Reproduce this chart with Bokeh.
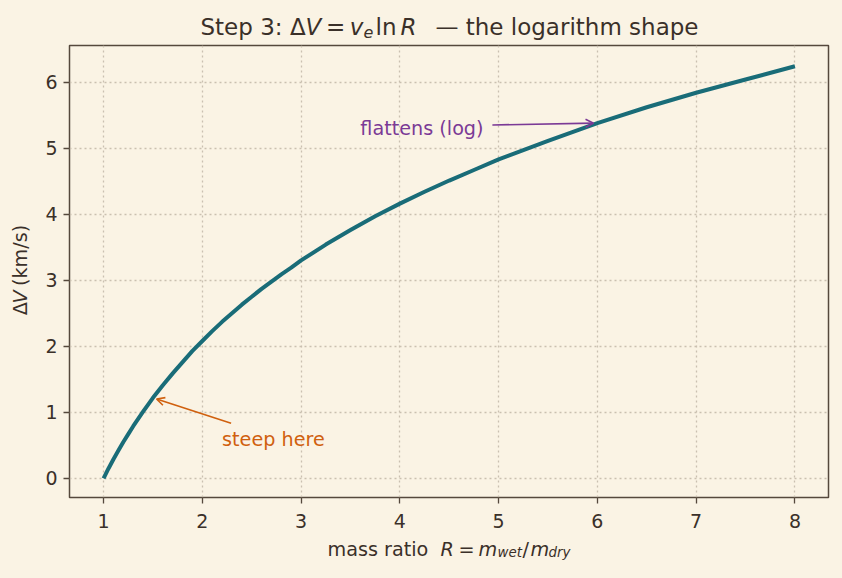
import math
from bokeh.plotting import figure
from bokeh.layouts import column, row
from bokeh.models import Label, Arrow, OpenHead, FixedTicker, Range1d
from bokeh.core.properties import value
from bokeh.embed import file_html
from bokeh.resources import INLINE

# ---------------- data ----------------
mass_ratio = [1.0, 1.05, 1.1, 1.15, 1.2, 1.25, 1.3, 1.35, 1.4, 1.5, 1.6, 1.7, 1.8,
              1.9, 2.0, 2.1, 2.2, 2.3, 2.4, 2.5, 2.6, 2.7, 2.8, 2.9, 3.0, 3.25,
              3.5, 3.75, 4.0, 4.25, 4.5, 4.75, 5.0, 5.5, 6.0, 6.5, 7.0, 7.5, 8.0]
delta_v = [0.0, 0.15, 0.29, 0.42, 0.55, 0.67, 0.79, 0.90, 1.01, 1.22, 1.41, 1.59, 1.76,
           1.93, 2.08, 2.23, 2.37, 2.50, 2.63, 2.75, 2.87, 2.98, 3.09, 3.19, 3.30, 3.54,
           3.76, 3.97, 4.16, 4.34, 4.51, 4.67, 4.83, 5.11, 5.38, 5.62, 5.84, 6.04, 6.24]
x_ticks = [1, 2, 3, 4, 5, 6, 7, 8]
y_ticks = [0, 1, 2, 3, 4, 5, 6]

steep_point = [1.5, 1.22]
steep_text_pos = [2.2, 0.5]
steep_text = "steep here"
flat_point = [6.0, 5.38]
flat_text_pos = [3.6, 5.2]
flat_text = "flattens (log)"

# ---------------- styling ----------------
BG = "#faf3e4"
TEAL = "#196c78"
ORANGE = "#d0600e"
PURPLE = "#7b3a96"
TXT = "#3a3029"
FRAME = "#55483c"
GRID = "#cac0b0"
FONT = "DejaVu Sans"

W, H = 842, 578
FL, FR, FT, FB = 69, 828, 45, 497
X0, X1 = 0.655, 8.34
Y0, Y1 = -0.29, 6.555
SHIFT = -6  # baseline correction (px)

TITLE_H = 40          # title strip 0..40
YLAB_W = 35           # y-label strip 0..35
XLAB_TOP = 536        # x-label strip 536..578


def dx(px):
    return X0 + (px - FL) * (X1 - X0) / (FR - FL)


def dy(py):
    return Y0 + (FB - py) * (Y1 - Y0) / (FB - FT)


def to_px(x, y):
    return (FL + (x - X0) * (FR - FL) / (X1 - X0),
            FB - (y - Y0) * (FB - FT) / (Y1 - Y0))


def strip(w, h, xr, yr):
    f = figure(width=w, height=h, x_range=Range1d(*xr), y_range=Range1d(*yr),
               x_axis_type=None, y_axis_type=None, title=None,
               output_backend="svg", toolbar_location=None, min_border=0)
    f.background_fill_color = BG
    f.border_fill_color = BG
    f.outline_line_color = None
    return f


def seg(fig, text, x, y, size, style="normal", color=TXT, align="left", angle=0.0,
        dxs=0.0, dys=SHIFT):
    fig.text(x=[x + dxs], y=[y + dys], text=[text], text_font=value(FONT),
             text_font_size=value(f"{size}px"), text_font_style=value(style),
             text_color=color, text_align=align, text_baseline="alphabetic",
             angle=angle)


# ---------------- title strip (pixel coordinates) ----------------
tf = strip(W, TITLE_H, (0, W), (TITLE_H, 0))
TB = 32
seg(tf, "Step 3: ", 200, TB, 23)
seg(tf, "\u0394", 289.4, TB, 23)
seg(tf, "V", 305, TB, 23, style="italic")
seg(tf, "=", 325.4, TB, 23)
seg(tf, "v", 349.3, TB, 23, style="italic")
seg(tf, "e", 363, TB + 5, 16, style="italic")
seg(tf, "ln", 375, TB, 23)
seg(tf, "R", 400, TB, 23, style="italic")
seg(tf, "\u2014 the logarithm shape", 698, TB, 23, align="right")

# ---------------- y-label strip (rotated text) ----------------
main_h = XLAB_TOP - TITLE_H
yf = strip(YLAB_W, main_h, (0, YLAB_W), (XLAB_TOP, TITLE_H))
YX = 20
YS = 18  # along-text correction for rotated glyph text
seg(yf, "\u0394", YX, 318 + YS, 19.2, angle=math.pi / 2, dys=0)
seg(yf, "V", YX, 305 + YS, 19.2, style="italic", angle=math.pi / 2, dys=0)
seg(yf, "(km/s)", YX, 286 + YS, 19.2, angle=math.pi / 2, dys=0)

# ---------------- x-label strip ----------------
xf = strip(W, H - XLAB_TOP, (0, W), (H, XLAB_TOP))
XB = 555
seg(xf, "mass ratio", 327, XB, 19.2)
seg(xf, "R", 440, XB, 19.2, style="italic")
seg(xf, "=", 458, XB, 19.2)
seg(xf, "m", 478, XB, 19.2, style="italic")
seg(xf, "wet", 497, XB + 3, 13.4, style="italic")
seg(xf, "/", 522, XB, 19.2)
seg(xf, "m", 530, XB, 19.2, style="italic")
seg(xf, "dry", 548, XB + 3, 13.4, style="italic")

# ---------------- main plot ----------------
p = figure(width=W - YLAB_W, height=main_h, x_range=Range1d(X0, X1),
           y_range=Range1d(Y0, Y1), title=None,
           output_backend="svg", toolbar_location=None,
           min_border_left=FL - YLAB_W, min_border_right=W - FR,
           min_border_top=FT - TITLE_H, min_border_bottom=XLAB_TOP - FB)
p.background_fill_color = BG
p.border_fill_color = BG
p.outline_line_color = FRAME
p.outline_line_width = 1.5

for ax, ticks in ((p.xaxis, x_ticks), (p.yaxis, y_ticks)):
    ax.ticker = FixedTicker(ticks=ticks)
    ax.axis_line_color = None
    ax.major_tick_out = 6
    ax.major_tick_in = 0
    ax.major_tick_line_color = FRAME
    ax.major_tick_line_width = 1.3
    ax.minor_tick_line_color = None
    ax.major_label_text_font = FONT
    ax.major_label_text_font_size = "19px"
    ax.major_label_text_color = TXT
p.xaxis.major_label_standoff = 10
p.yaxis.major_label_standoff = 6

p.xgrid.ticker = FixedTicker(ticks=x_ticks)
p.ygrid.ticker = FixedTicker(ticks=y_ticks)
for g in (p.xgrid, p.ygrid):
    g.grid_line_color = GRID
    g.grid_line_width = 1.3
    g.grid_line_dash = "2 3"

p.line(mass_ratio, delta_v, line_width=4, color=TEAL, line_cap="butt",
       line_join="round")


def annotate(text, point, text_pos, tail_offset_px, color):
    tx, ty = to_px(*text_pos)
    p.add_layout(Label(x=text_pos[0], y=dy(ty + SHIFT), text=text, text_font=FONT,
                       text_font_size="19.2px", text_color=color,
                       text_baseline="alphabetic", text_align="left"))
    tail = (tx + tail_offset_px[0], ty + tail_offset_px[1])
    hx, hy = to_px(*point)
    vx, vy = tail[0] - hx, tail[1] - hy
    d = math.hypot(vx, vy)
    head = (hx + vx / d * 3.8, hy + vy / d * 3.8)
    p.add_layout(Arrow(end=OpenHead(size=8, line_color=color, line_width=1.6),
                       x_start=dx(tail[0]), y_start=dy(tail[1]),
                       x_end=dx(head[0]), y_end=dy(head[1]),
                       line_color=color, line_width=1.6))


annotate(steep_text, steep_point, steep_text_pos, (9, -22), ORANGE)
annotate(flat_text, flat_point, flat_text_pos, (132, -10), PURPLE)

bg_style = {"background-color": BG}
layout = column(tf, row(yf, p, styles=bg_style), xf, styles=bg_style)
open("out.html", "w").write(file_html(layout, INLINE))
